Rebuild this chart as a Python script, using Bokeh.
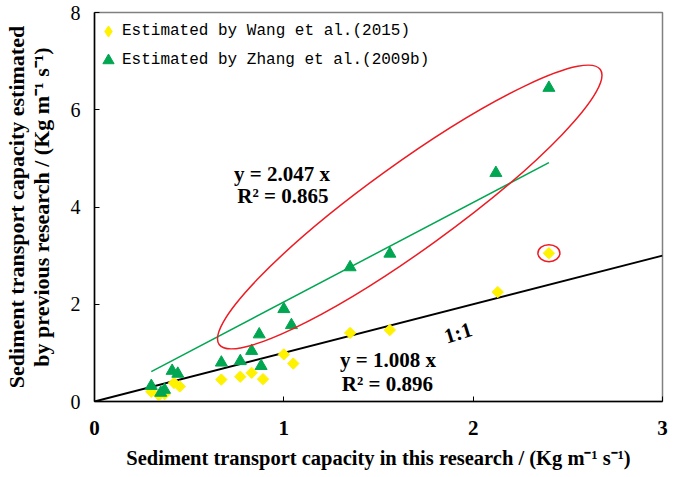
from bokeh.plotting import figure
from bokeh.models import Range1d, FixedTicker, Legend, LegendItem
from bokeh.core.properties import value
from bokeh.embed import file_html
from bokeh.resources import INLINE
import math

# ---------------- data ----------------
wang_x = [0.30, 0.34, 0.37, 0.42, 0.45, 0.67, 0.77, 0.83, 0.89, 1.00, 1.05, 1.35, 1.56, 2.13, 2.40]
wang_y = [0.20, 0.13, 0.15, 0.38, 0.31, 0.45, 0.51, 0.59, 0.46, 0.97, 0.78, 1.41, 1.47, 2.25, 3.05]

zhang_x = [0.30, 0.35, 0.37, 0.41, 0.44, 0.67, 0.77, 0.83, 0.87, 0.88, 1.00, 1.04, 1.35, 1.56, 2.12, 2.40]
zhang_y = [0.32, 0.18, 0.24, 0.63, 0.57, 0.80, 0.83, 1.04, 1.38, 0.73, 1.90, 1.57, 2.76, 3.04, 4.70, 6.45]

zhang_slope = 2.047
one_to_one = [0, 3]
x_ticks = [0, 1, 2, 3]
y_ticks = [0, 2, 4, 6, 8]

wang_label = "Estimated by Wang et al.(2015)"
zhang_label = "Estimated by Zhang et al.(2009b)"
eq_zhang = ["y = 2.047 x", "R² = 0.865"]
eq_wang = ["y = 1.008 x", "R² = 0.896"]

YELLOW = "#FFF200"
GREEN = "#00A651"
RED = "#ED1C24"
SERIF = "Liberation Serif"

p = figure(width=668, height=471, output_backend="svg", toolbar_location=None,
           x_range=Range1d(0, 3), y_range=Range1d(0, 8),
           min_border_left=94, min_border_right=6, min_border_top=12, min_border_bottom=66)
p.grid.visible = False
p.outline_line_color = "#808080"
p.outline_line_width = 1.5
p.background_fill_color = "white"
p.border_fill_color = "white"

for ax in (p.xaxis[0], p.yaxis[0]):
    ax.axis_line_color = "black"
    ax.axis_line_width = 1.5
    ax.major_tick_in = 5
    ax.major_tick_out = 0
    ax.minor_tick_in = 0
    ax.minor_tick_out = 0
    ax.major_tick_line_color = "black"
    ax.axis_label_text_font = SERIF
    ax.axis_label_text_font_style = "bold"
    ax.axis_label_text_color = "black"
    ax.major_label_text_font = SERIF
    ax.major_label_text_color = "black"

p.xaxis.ticker = FixedTicker(ticks=x_ticks)
p.yaxis.ticker = FixedTicker(ticks=y_ticks)
p.xaxis.major_label_text_font_size = "21px"
p.xaxis.major_label_text_font_style = "bold"
p.yaxis.major_label_text_font_size = "20px"
p.yaxis.major_label_text_font_style = "normal"
p.xaxis.major_label_standoff = 19
p.yaxis.major_label_standoff = 14

p.xaxis.axis_label = "Sediment transport capacity in this research / (Kg m⁻¹ s⁻¹)"
p.yaxis.axis_label = "Sediment transport capacity estimated\nby previous research / (Kg m⁻¹ s⁻¹)"
p.xaxis.axis_label_text_font_size = "20.5px"
p.yaxis.axis_label_text_font_size = "22px"
p.yaxis.axis_label_text_line_height = 1.0
p.xaxis.axis_label_standoff = 9
p.yaxis.axis_label_standoff = 14

# lines
p.line(one_to_one, [v * 1.0 for v in one_to_one], line_color="black", line_width=2)
fit_x = [min(zhang_x), max(zhang_x)]
p.line(fit_x, [zhang_slope * v for v in fit_x], line_color=GREEN, line_width=1.5)

# points
r_wang = p.scatter(wang_x, wang_y, marker="square", angle=math.pi / 4, size=8,
                   fill_color=YELLOW, line_color=YELLOW)
r_zhang = p.scatter(zhang_x, zhang_y, marker="triangle", size=12,
                    fill_color=GREEN, line_color=GREEN)
# legend-only swatch for the diamond series (not drawn in the plot area)
r_wang_key = p.scatter([float("nan")], [float("nan")], marker="diamond", size=12,
                       fill_color=YELLOW, line_color=YELLOW)

# highlight ellipses
p.ellipse(x=[1.665], y=[4.0], width=[470], height=[86], angle=[0.625],
          width_units="screen", height_units="screen",
          fill_color=None, line_color=RED, line_width=1.5)
p.ellipse(x=[wang_x[-1]], y=[wang_y[-1]], width=[22], height=[17],
          width_units="screen", height_units="screen",
          fill_color=None, line_color=RED, line_width=1.5)

# annotation texts
txt = dict(text_font=value(SERIF), text_font_style="bold", text_font_size="21px",
           text_align="center", text_baseline="middle", text_color="black")
p.text(x=[0.99, 0.995], y=[4.67, 4.22], text=eq_zhang, **txt)
p.text(x=[1.55, 1.547], y=[0.86, 0.35], text=eq_wang, **txt)
p.text(x=[1.92], y=[1.41], text=["1:1"], angle=0.3, **txt)

legend = Legend(items=[LegendItem(label=wang_label, renderers=[r_wang_key]),
                       LegendItem(label=zhang_label, renderers=[r_zhang])],
                location="top_left")
legend.border_line_color = None
legend.background_fill_alpha = 0
legend.margin = 0
legend.padding = 4
legend.spacing = 1
legend.glyph_width = 28
legend.glyph_height = 28
legend.label_standoff = -3
legend.label_text_font = "Liberation Mono"
legend.label_text_font_size = "16px"
legend.label_text_color = "black"
legend.title = " "
legend.title_text_font_size = "1px"
legend.title_standoff = 4
p.add_layout(legend)

open("out.html", "w").write(file_html(p, INLINE))
